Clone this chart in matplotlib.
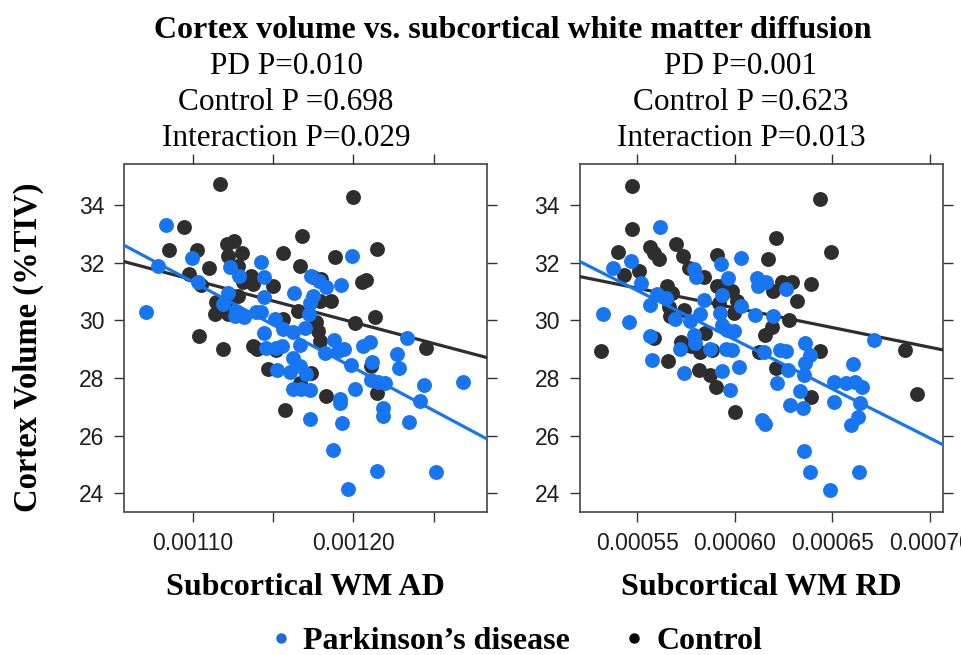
import numpy as np
import matplotlib.pyplot as plt
from matplotlib.lines import Line2D

# Cortex volume (%TIV) against subcortical white matter diffusivity.
# Diffusivity values are stored in units of 1e-5 mm^2/s.

# --- axial diffusivity (AD) panel ---
ad_pd_x = [108.36, 107.84, 107.12, 109.94, 110.37, 112.30, 112.86, 114.28, 114.44, 114.44,
           112.20, 111.89, 112.62, 113.18, 112.72, 113.92, 114.28, 115.11, 115.62, 116.29,
           117.39, 117.87, 118.32, 117.49, 117.29, 117.24, 116.97, 116.25, 119.94, 119.26,
           114.42, 114.59, 115.21, 115.58, 116.66, 116.25, 116.66, 117.08, 115.27, 116.08,
           116.25, 116.77, 117.33, 118.80, 118.22, 119.40, 119.05, 119.84, 120.61, 121.06,
           121.19, 122.74, 122.85, 123.35, 121.12, 121.54, 121.95, 120.09, 119.15, 119.15,
           121.85, 121.85, 124.38, 124.13, 126.83, 117.33, 119.32, 123.43, 118.74, 121.48,
           125.13, 119.65]
ad_pd_y = [33.31, 31.87, 30.30, 32.15, 31.34, 31.84, 31.55, 32.01, 31.51, 30.82,
           30.94, 30.56, 30.16, 30.10, 30.33, 30.30, 30.27, 30.04, 29.69, 30.94,
           31.55, 31.37, 31.14, 30.85, 30.60, 30.22, 29.72, 29.60, 32.24, 31.23,
           29.56, 29.03, 29.02, 29.12, 29.14, 28.68, 28.42, 28.13, 28.28, 28.21,
           27.61, 27.61, 27.59, 29.32, 28.88, 29.00, 28.94, 28.46, 29.09, 29.23,
           28.54, 28.83, 28.36, 29.37, 27.94, 27.87, 27.84, 27.61, 27.26, 27.13,
           26.97, 26.69, 27.76, 27.21, 27.87, 26.57, 26.43, 26.48, 25.49, 24.76,
           24.75, 24.14]
ad_ctrl_x = [111.68, 119.98, 109.46, 108.51, 110.29, 112.14, 112.57, 113.09, 112.20, 115.62,
             116.81, 121.50, 118.88, 116.68, 111.00, 109.75, 110.54, 112.82, 113.65, 113.76,
             113.13, 115.00, 120.56, 120.81, 117.49, 118.01, 112.82, 112.30, 111.47, 111.37,
             112.20, 115.62, 116.56, 117.91, 118.63, 120.09, 121.33, 117.70, 117.80, 117.91,
             110.39, 111.89, 113.76, 114.01, 115.21, 124.51, 114.69, 117.39, 116.66, 121.08,
             121.44, 118.32, 115.73]
ad_ctrl_y = [34.73, 34.29, 33.25, 32.45, 32.45, 32.65, 32.73, 32.33, 32.24, 32.33,
             32.91, 32.47, 32.18, 31.89, 31.80, 31.60, 31.23, 31.89, 31.55, 31.26,
             31.31, 31.20, 31.34, 31.40, 31.49, 31.43, 30.85, 30.74, 30.62, 30.22,
             30.22, 30.04, 30.33, 30.68, 30.68, 29.90, 30.10, 29.93, 29.64, 29.29,
             29.46, 29.00, 29.09, 29.00, 28.97, 29.02, 28.31, 28.17, 27.84, 28.40,
             27.46, 27.38, 26.89]

# --- radial diffusivity (RD) panel ---
rd_pd_x = [56.19, 60.33, 54.66, 53.77, 57.90, 58.02, 59.30, 59.65, 61.14, 61.17,
           61.60, 62.64, 55.17, 56.02, 55.68, 56.45, 58.41, 59.35, 60.32, 61.05,
           61.94, 53.24, 54.57, 56.96, 57.68, 58.24, 59.26, 59.35, 59.60, 59.94,
           57.90, 57.98, 55.63, 57.18, 58.72, 59.57, 59.86, 61.51, 62.33, 62.64,
           63.61, 63.83, 67.15, 55.77, 57.42, 59.35, 60.20, 62.71, 63.61, 63.52,
           66.04, 62.15, 65.06, 65.70, 66.16, 66.50, 59.77, 63.32, 62.81, 63.49,
           65.06, 66.42, 61.39, 61.56, 65.94, 66.33, 63.55, 63.86, 66.37, 64.85]
rd_pd_y = [33.23, 32.17, 32.07, 31.80, 31.77, 31.51, 31.95, 31.48, 31.48, 31.17,
           31.34, 31.08, 31.28, 30.91, 30.53, 30.76, 30.71, 30.88, 30.50, 30.18,
           30.16, 30.22, 29.95, 30.03, 29.99, 30.22, 30.24, 29.84, 29.66, 29.61,
           29.49, 29.20, 29.46, 28.99, 28.99, 28.99, 28.97, 28.91, 28.97, 28.94,
           29.20, 28.80, 29.32, 28.62, 28.18, 28.25, 28.37, 28.28, 28.51, 28.10,
           28.49, 27.82, 27.87, 27.82, 27.87, 27.70, 27.58, 27.56, 27.06, 26.95,
           27.18, 27.14, 26.54, 26.40, 26.37, 26.66, 25.47, 24.75, 24.73, 24.12]
rd_ctrl_x = [54.74, 64.34, 54.71, 54.03, 55.68, 55.85, 56.11, 56.99, 57.35, 57.64,
             59.09, 62.12, 61.70, 64.94, 54.32, 55.09, 58.41, 62.41, 62.93, 63.90,
             61.95, 63.18, 62.76, 56.53, 56.79, 59.09, 59.43, 59.86, 56.62, 56.70,
             57.39, 59.18, 59.94, 60.11, 58.49, 57.22, 57.73, 58.24, 58.83, 61.90,
             61.53, 61.22, 55.85, 53.16, 56.59, 58.15, 58.75, 59.06, 62.12, 64.34,
             63.91, 68.72, 69.35, 60.00]
rd_ctrl_y = [34.64, 34.21, 33.18, 32.35, 32.53, 32.32, 32.14, 32.65, 32.23, 31.80,
             32.27, 32.84, 32.12, 32.38, 31.57, 31.72, 31.51, 31.34, 31.31, 31.26,
             31.00, 30.65, 30.01, 31.17, 30.94, 31.17, 31.23, 31.00, 30.47, 30.13,
             30.36, 30.59, 30.24, 30.65, 29.55, 29.26, 29.09, 28.91, 28.97, 29.78,
             29.49, 28.91, 29.38, 28.95, 28.57, 28.28, 28.10, 27.70, 28.34, 28.94,
             27.33, 28.97, 27.43, 26.83]

# regression fits per group: [intercept, slope per 1e-5 unit]
ad_pd_fit = [64.08, -0.2977]
ad_ctrl_fit = [47.63, -0.1475]
rd_pd_fit = [49.82, -0.3416]
rd_ctrl_fit = [38.63, -0.1367]

ad_stats = ['PD P=0.010', 'Control P =0.698', 'Interaction P=0.029']
rd_stats = ['PD P=0.001', 'Control P =0.623', 'Interaction P=0.013']

BLUE = '#1875f2'
DARK = '#2e2e2e'
SERIF = ['Liberation Serif', 'DejaVu Serif']
SANS = ['Liberation Sans', 'DejaVu Sans']

W, H = 961, 655
fig = plt.figure(figsize=(W / 100, H / 100), dpi=100)


def panel(left, right, top, bottom):
    return fig.add_axes([left / W, 1 - bottom / H, (right - left) / W, (bottom - top) / H])


def draw(ax, pd_x, pd_y, ct_x, ct_y, pd_fit, ct_fit, xlim, xticks, xlabels):
    sc = 1e-5
    xs = np.array(xlim)
    ax.scatter(np.array(ct_x) * sc, ct_y, s=115, color=DARK, linewidths=0, zorder=2)
    ax.plot(xs * sc, ct_fit[0] + ct_fit[1] * xs, color=DARK, lw=2.3, zorder=3)
    ax.scatter(np.array(pd_x) * sc, pd_y, s=115, color=BLUE, linewidths=0, zorder=4)
    ax.plot(xs * sc, pd_fit[0] + pd_fit[1] * xs, color=BLUE, lw=2.3, zorder=5)
    ax.set_xlim(xs * sc)
    ax.set_ylim(23.35, 35.40)
    ax.set_xticks(np.array(xticks) * sc)
    ax.set_xticklabels(xlabels)
    ax.set_yticks([24, 26, 28, 30, 32, 34])
    ax.tick_params(direction='out', length=7.5, width=1, color='#333333',
                   top=True, right=True, labelsize=16.5, pad=7)
    for lab in ax.get_xticklabels() + ax.get_yticklabels():
        lab.set_family(SANS)
        lab.set_color('#1e1e1e')
    for sp in ax.spines.values():
        sp.set_color('#444444')
        sp.set_linewidth(1.2)


ax1 = panel(124.5, 487, 164.5, 512)
ax2 = panel(580, 943, 164.5, 512)

draw(ax1, ad_pd_x, ad_pd_y, ad_ctrl_x, ad_ctrl_y, ad_pd_fit, ad_ctrl_fit,
     (105.77, 128.31), [110, 115, 120, 125], ['0.00110', '', '0.00120', ''])
draw(ax2, rd_pd_x, rd_pd_y, rd_ctrl_x, rd_ctrl_y, rd_pd_fit, rd_ctrl_fit,
     (52.07, 70.66), [55, 60, 65, 70], ['0.00055', '0.00060', '0.00065', '0.00070'])

ax1.set_xlabel('Subcortical WM AD', family=SERIF, weight='bold', fontsize=23, labelpad=13)
ax2.set_xlabel('Subcortical WM RD', family=SERIF, weight='bold', fontsize=23, labelpad=13)
fig.text(28 / W, 1 - 347 / H, 'Cortex Volume (%TIV)', rotation=90, ha='center', va='center',
         family=SERIF, weight='bold', fontsize=23.5)

fig.text(513 / W, 1 - 30 / H, 'Cortex volume vs. subcortical white matter diffusion',
         ha='center', va='center', family=SERIF, weight='bold', fontsize=23)
for cx, lines in [(286, ad_stats), (741, rd_stats)]:
    for yy, line in zip([66, 103, 139], lines):
        fig.text(cx / W, 1 - yy / H, line, ha='center', va='center',
                 family=SERIF, fontsize=22.5)

handles = [Line2D([], [], ls='', marker='o', ms=6.5, color='#1a6fd0', label='Parkinson’s disease'),
           Line2D([], [], ls='', marker='o', ms=6.5, color='black', label='Control')]
fig.legend(handles=handles, loc='center', bbox_to_anchor=(517 / W, 1 - 641 / H), ncol=2,
           frameon=False, prop=dict(family=SERIF, weight='bold', size=23),
           handlelength=0.6, handletextpad=0.4, columnspacing=1.7)

fig.savefig('out.png', dpi=100)
